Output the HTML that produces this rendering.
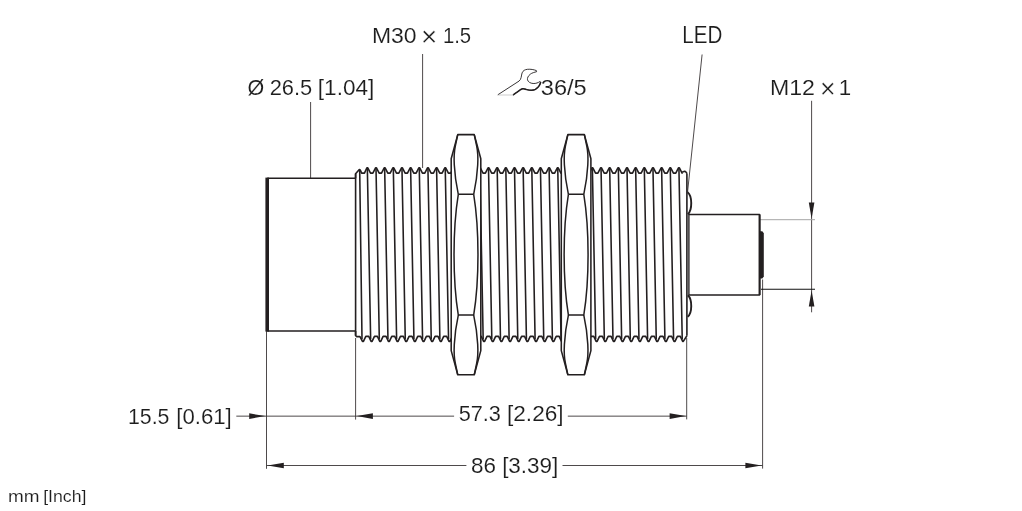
<!DOCTYPE html>
<html lang="en"><head><meta charset="utf-8"><title>Dimension drawing</title>
<style>html,body{margin:0;padding:0;background:#fff;overflow:hidden}svg{display:block;will-change:transform;transform:translateZ(0)}</style>
</head><body>
<svg width="1022" height="511" viewBox="0 0 1022 511">
<rect width="1022" height="511" fill="#fff"/>
<g stroke="#3a3637" stroke-width="0.9" fill="none">
<path d="M310.6 102V178"/>
<path d="M422.6 54V168"/>
<path d="M702.1 54.5L687.5 192.5"/>
<path d="M811.6 100.8V312.3"/>
<path d="M266.5 331V468.8"/>
<path d="M355.6 338V419.6"/>
<path d="M686.7 338V419.4"/>
<path d="M762.6 279.5V468.6"/>
<path d="M236.3 416.15H454.1M567.8 416.15H686.7"/>
<path d="M266.5 465.5H466.4M562.5 465.5H762.6"/>
<path d="M761 289.2H815" stroke="#111" stroke-width="1.1"/>
</g>
<path d="M760 219.7H815" stroke="#a6a6a6" stroke-width="1" fill="none"/>
<path d="M265.4 416.1L249.2 418.9L249.2 413.3Z" fill="#231f20"/>
<path d="M356.7 416.1L372.9 413.3L372.9 418.9Z" fill="#231f20"/>
<path d="M685.8 416.1L669.6 418.9L669.6 413.3Z" fill="#231f20"/>
<path d="M267.6 465.5L283.8 462.7L283.8 468.3Z" fill="#231f20"/>
<path d="M761.6 465.5L745.4 468.3L745.4 462.7Z" fill="#231f20"/>
<path d="M811.6 218.8L808.8 202.6L814.4 202.6Z" fill="#231f20"/>
<path d="M811.6 290.4L814.4 306.6L808.8 306.6Z" fill="#231f20"/>
<g stroke="#231f20" stroke-width="1.6" fill="none" stroke-linejoin="round" stroke-linecap="butt">
<path d="M355.6 178.2H267.2M267.2 331.0H355.6"/>
<polyline points="355.60,178.20 355.60,173.80 359.30,169.50 360.20,169.90 361.60,173.15 364.45,173.15 366.90,167.80 367.80,167.80 370.50,173.15 372.86,173.15 375.56,167.80 376.46,167.80 379.16,173.15 381.51,173.15 384.21,167.80 385.11,167.80 387.81,173.15 390.17,173.15 392.87,167.80 393.77,167.80 396.47,173.15 398.82,173.15 401.52,167.80 402.42,167.80 405.12,173.15 407.48,173.15 410.18,167.80 411.08,167.80 413.78,173.15 416.13,173.15 418.83,167.80 419.73,167.80 422.43,173.15 424.79,173.15 427.49,167.80 428.39,167.80 431.09,173.15 433.44,173.15 436.14,167.80 437.04,167.80 439.74,173.15 442.10,173.15 444.80,167.80 445.70,167.80 448.40,173.15 450.75,173.15 453.45,167.80 454.35,167.80 457.05,173.15 459.41,173.15 462.11,167.80 463.01,167.80 465.71,173.15 468.06,173.15 470.76,167.80 471.66,167.80 474.36,173.15 476.72,173.15 479.42,167.80 480.32,167.80 483.02,173.15 485.37,173.15 488.07,167.80 488.97,167.80 491.67,173.15 494.03,173.15 496.73,167.80 497.63,167.80 500.33,173.15 502.68,173.15 505.38,167.80 506.28,167.80 508.98,173.15 511.34,173.15 514.04,167.80 514.94,167.80 517.64,173.15 519.99,173.15 522.69,167.80 523.59,167.80 526.29,173.15 528.65,173.15 531.35,167.80 532.25,167.80 534.95,173.15 537.30,173.15 540.00,167.80 540.90,167.80 543.60,173.15 545.96,173.15 548.66,167.80 549.56,167.80 552.26,173.15 554.61,173.15 557.31,167.80 558.21,167.80 560.91,173.15 563.27,173.15 565.97,167.80 566.87,167.80 569.57,173.15 571.92,173.15 574.62,167.80 575.52,167.80 578.22,173.15 580.58,173.15 583.28,167.80 584.18,167.80 586.88,173.15 589.23,173.15 591.93,167.80 592.83,167.80 595.53,173.15 597.89,173.15 600.59,167.80 601.49,167.80 604.19,173.15 606.54,173.15 609.24,167.80 610.14,167.80 612.84,173.15 615.20,173.15 617.90,167.80 618.80,167.80 621.50,173.15 623.85,173.15 626.55,167.80 627.45,167.80 630.15,173.15 632.51,173.15 635.21,167.80 636.11,167.80 638.81,173.15 641.16,173.15 643.86,167.80 644.76,167.80 647.46,173.15 649.82,173.15 652.52,167.80 653.42,167.80 656.12,173.15 658.47,173.15 661.17,167.80 662.07,167.80 664.77,173.15 667.13,173.15 669.83,167.80 670.73,167.80 673.43,173.15 675.78,173.15 678.48,167.80 679.38,167.80 682.08,173.15 681.90,172.20 684.70,171.20 686.30,172.40 686.90,173.60"/>
<polyline points="355.60,331.00 355.60,335.60 356.80,336.60 359.95,336.65 362.45,341.45 363.45,341.45 365.80,336.35 368.75,336.35 371.10,341.45 372.10,341.45 374.45,336.35 377.41,336.35 379.76,341.45 380.76,341.45 383.11,336.35 386.06,336.35 388.41,341.45 389.41,341.45 391.76,336.35 394.72,336.35 397.07,341.45 398.07,341.45 400.42,336.35 403.37,336.35 405.72,341.45 406.72,341.45 409.07,336.35 412.03,336.35 414.38,341.45 415.38,341.45 417.73,336.35 420.68,336.35 423.03,341.45 424.03,341.45 426.38,336.35 429.34,336.35 431.69,341.45 432.69,341.45 435.04,336.35 437.99,336.35 440.34,341.45 441.34,341.45 443.69,336.35 446.65,336.35 449.00,341.45 450.00,341.45 452.35,336.35 455.30,336.35 457.65,341.45 458.65,341.45 461.00,336.35 463.96,336.35 466.31,341.45 467.31,341.45 469.66,336.35 472.61,336.35 474.96,341.45 475.96,341.45 478.31,336.35 481.27,336.35 483.62,341.45 484.62,341.45 486.97,336.35 489.92,336.35 492.27,341.45 493.27,341.45 495.62,336.35 498.58,336.35 500.93,341.45 501.93,341.45 504.28,336.35 507.23,336.35 509.58,341.45 510.58,341.45 512.93,336.35 515.89,336.35 518.24,341.45 519.24,341.45 521.59,336.35 524.54,336.35 526.89,341.45 527.89,341.45 530.24,336.35 533.20,336.35 535.55,341.45 536.55,341.45 538.90,336.35 541.85,336.35 544.20,341.45 545.20,341.45 547.55,336.35 550.51,336.35 552.86,341.45 553.86,341.45 556.21,336.35 559.16,336.35 561.51,341.45 562.51,341.45 564.86,336.35 567.82,336.35 570.17,341.45 571.17,341.45 573.52,336.35 576.47,336.35 578.82,341.45 579.82,341.45 582.17,336.35 585.13,336.35 587.48,341.45 588.48,341.45 590.83,336.35 593.78,336.35 596.13,341.45 597.13,341.45 599.48,336.35 602.44,336.35 604.79,341.45 605.79,341.45 608.14,336.35 611.09,336.35 613.44,341.45 614.44,341.45 616.79,336.35 619.75,336.35 622.10,341.45 623.10,341.45 625.45,336.35 628.40,336.35 630.75,341.45 631.75,341.45 634.10,336.35 637.06,336.35 639.41,341.45 640.41,341.45 642.76,336.35 645.71,336.35 648.06,341.45 649.06,341.45 651.41,336.35 654.37,336.35 656.72,341.45 657.72,341.45 660.07,336.35 663.02,336.35 665.37,341.45 666.37,341.45 668.72,336.35 671.68,336.35 674.03,341.45 675.03,341.45 677.38,336.35 680.33,336.35 682.68,341.45 683.30,341.40 686.90,335.80"/>
<path d="M686.9 173.6V335.8M355.6 173.8V335.6"/>
<path d="M359.70 170.00L362.00 339.20 M367.35 168.40L370.65 339.20 M376.01 168.40L379.31 339.20 M384.66 168.40L387.96 339.20 M393.32 168.40L396.62 339.20 M401.97 168.40L405.27 339.20 M410.63 168.40L413.93 339.20 M419.28 168.40L422.58 339.20 M427.94 168.40L431.24 339.20 M436.59 168.40L439.89 339.20 M445.25 168.40L448.55 339.20 M453.90 168.40L457.20 339.20 M462.56 168.40L465.86 339.20 M471.21 168.40L474.51 339.20 M479.87 168.40L483.17 339.20 M488.52 168.40L491.82 339.20 M497.18 168.40L500.48 339.20 M505.83 168.40L509.13 339.20 M514.49 168.40L517.79 339.20 M523.14 168.40L526.44 339.20 M531.80 168.40L535.10 339.20 M540.45 168.40L543.75 339.20 M549.11 168.40L552.41 339.20 M557.76 168.40L561.06 339.20 M566.42 168.40L569.72 339.20 M575.07 168.40L578.37 339.20 M583.73 168.40L587.03 339.20 M592.38 168.40L595.68 339.20 M601.04 168.40L604.34 339.20 M609.69 168.40L612.99 339.20 M618.35 168.40L621.65 339.20 M627.00 168.40L630.30 339.20 M635.66 168.40L638.96 339.20 M644.31 168.40L647.61 339.20 M652.97 168.40L656.27 339.20 M661.62 168.40L664.92 339.20 M670.28 168.40L673.58 339.20 M678.93 168.40L682.23 339.20" stroke-width="1.58"/>
</g>
<path d="M267.2 177.6V331.6" stroke="#231f20" stroke-width="3.6" fill="none"/>
<path d="M457.75 134.6H474.25L480.8 158.8V350.59999999999997L474.25 374.79999999999995H457.75L451.2 350.59999999999997V158.8Z" fill="#fff" stroke="#231f20" stroke-width="1.55" stroke-linejoin="round"/>
<path d="M457.75 134.60L455.30 146.20C454.30 151.00,453.90 158.00,454.30 165.00C454.80 175.00,456.50 186.00,458.30 194.30 M474.25 134.60L476.70 146.20C477.70 151.00,478.10 158.00,477.70 165.00C477.20 175.00,475.50 186.00,473.70 194.30 M458.30 194.30H473.70" fill="none" stroke="#231f20" stroke-width="1.5" stroke-linejoin="round"/>
<path d="M457.75 374.80L455.30 363.20C454.30 358.40,453.90 351.40,454.30 344.40C454.80 334.40,456.50 323.40,458.30 315.10 M474.25 374.80L476.70 363.20C477.70 358.40,478.10 351.40,477.70 344.40C477.20 334.40,475.50 323.40,473.70 315.10 M458.30 315.10H473.70" fill="none" stroke="#231f20" stroke-width="1.5" stroke-linejoin="round"/>
<path d="M458.3 194.3C452.6 229.3,452.6 280.09999999999997,458.3 315.09999999999997M473.7 194.3C479.4 229.3,479.4 280.09999999999997,473.7 315.09999999999997" fill="none" stroke="#231f20" stroke-width="1.5"/>
<path d="M567.85 134.6H584.35L590.9 158.8V350.59999999999997L584.35 374.79999999999995H567.85L561.3000000000001 350.59999999999997V158.8Z" fill="#fff" stroke="#231f20" stroke-width="1.55" stroke-linejoin="round"/>
<path d="M567.85 134.60L565.40 146.20C564.40 151.00,564.00 158.00,564.40 165.00C564.90 175.00,566.60 186.00,568.40 194.30 M584.35 134.60L586.80 146.20C587.80 151.00,588.20 158.00,587.80 165.00C587.30 175.00,585.60 186.00,583.80 194.30 M568.40 194.30H583.80" fill="none" stroke="#231f20" stroke-width="1.5" stroke-linejoin="round"/>
<path d="M567.85 374.80L565.40 363.20C564.40 358.40,564.00 351.40,564.40 344.40C564.90 334.40,566.60 323.40,568.40 315.10 M584.35 374.80L586.80 363.20C587.80 358.40,588.20 351.40,587.80 344.40C587.30 334.40,585.60 323.40,583.80 315.10 M568.40 315.10H583.80" fill="none" stroke="#231f20" stroke-width="1.5" stroke-linejoin="round"/>
<path d="M568.4 194.3C562.7 229.3,562.7 280.09999999999997,568.4 315.09999999999997M583.8000000000001 194.3C589.5 229.3,589.5 280.09999999999997,583.8000000000001 315.09999999999997" fill="none" stroke="#231f20" stroke-width="1.5"/>
<g stroke="#231f20" stroke-width="1.35" fill="none" stroke-linejoin="round">
<path d="M688.9 214.5H759.6V295H688.9Z" fill="#fff"/>
<path d="M687.6 192.2C692.4 196,692.4 210,687.9 214.2" stroke-width="1.9"/>
<path d="M687.9 295.3C692.4 299.5,692.4 313,687.6 316.8" stroke-width="1.9"/>
</g>
<path d="M759.6 214.5V295" stroke="#231f20" stroke-width="2" fill="none"/>
<path d="M759.6 231.2L762.3 231.2L763.8 233.2V276.5L762.3 278.5H759.6Z" fill="#231f20"/>
<path d="M497.8 94.8L519 81.1C521.5 79.5,521.2 75.5,522.1 72.9C523 70.5,525 69.6,527.5 69.3C530.5 69,534 69.6,536.4 70.6L536.6 71.7C534.5 72.3,532 72.8,530.3 74.2C528 76,527.2 78,527.5 79.8C528 82,530.5 83.3,533.1 83.5C536 83.7,538.3 82.6,540.1 81.5L540.6 82.6C540 85,538 87.8,535.4 89.4C533 90.7,530 90.5,526.8 89.6C525 89.1,524 88.5,522.5 88.8C521 89.2,520.4 89.8,519.6 90.3L513.5 94.7" fill="none" stroke="#231f20" stroke-width="0.9" stroke-linejoin="round"/>
<path d="M513.5 94.7L519.6 90.3C520.4 89.8,521 89.2,522.5 88.8C524 88.5,525 89.1,526.8 89.6C530 90.5,533 90.7,535.4 89.4C538 87.8,540 85,540.6 82.6" fill="none" stroke="#231f20" stroke-width="1.5" stroke-linecap="round"/>
<path d="M497.8 95H513.5" stroke="#999" stroke-width="0.5" fill="none"/>
<g font-family="'Liberation Sans', sans-serif" fill="#1d1d1d" style="font-kerning:none" stroke="#fff" stroke-width="0.12">
<text x="371.95" y="42.8" font-size="22.7" textLength="44.70" lengthAdjust="spacingAndGlyphs">M30</text>
<text x="420.97" y="45.73" font-size="28.46" textLength="16.24" lengthAdjust="spacingAndGlyphs" stroke="#fff" stroke-width="0.35">×</text>
<text x="442.89" y="42.8" font-size="22.7" textLength="28.22" lengthAdjust="spacingAndGlyphs">1.5</text>
<text x="247.40" y="95.2" font-size="22.7" textLength="16.69" lengthAdjust="spacingAndGlyphs">Ø</text>
<text x="269.64" y="95.2" font-size="22.7" textLength="42.54" lengthAdjust="spacingAndGlyphs">26.5</text>
<text x="317.83" y="95.2" font-size="22.7" textLength="56.44" lengthAdjust="spacingAndGlyphs">[1.04]</text>
<text x="682.35" y="42.8" font-size="23.2" textLength="39.99" lengthAdjust="spacingAndGlyphs">LED</text>
<text x="540.84" y="94.5" font-size="22.7" textLength="45.91" lengthAdjust="spacingAndGlyphs">36/5</text>
<text x="769.94" y="94.7" font-size="22.7" textLength="44.98" lengthAdjust="spacingAndGlyphs">M12</text>
<text x="819.95" y="97.53" font-size="27.56" textLength="15.59" lengthAdjust="spacingAndGlyphs" stroke="#fff" stroke-width="0.35">×</text>
<text x="838.84" y="94.7" font-size="22.7" textLength="12.41" lengthAdjust="spacingAndGlyphs">1</text>
<text x="128.02" y="424.3" font-size="22.7" textLength="41.44" lengthAdjust="spacingAndGlyphs">15.5</text>
<text x="176.26" y="424.3" font-size="22.7" textLength="55.48" lengthAdjust="spacingAndGlyphs">[0.61]</text>
<text x="458.77" y="421.4" font-size="22.7" textLength="42.14" lengthAdjust="spacingAndGlyphs">57.3</text>
<text x="507.03" y="421.4" font-size="22.7" textLength="56.54" lengthAdjust="spacingAndGlyphs">[2.26]</text>
<text x="471.06" y="472.9" font-size="22.7" textLength="24.98" lengthAdjust="spacingAndGlyphs">86</text>
<text x="502.14" y="472.9" font-size="22.7" textLength="56.22" lengthAdjust="spacingAndGlyphs">[3.39]</text>
<text x="7.98" y="502.1" font-size="16.2" textLength="31.52" lengthAdjust="spacingAndGlyphs">mm</text>
<text x="43.18" y="502.1" font-size="16.2" textLength="43.24" lengthAdjust="spacingAndGlyphs">[Inch]</text>
</g>
</svg>
</body></html>
